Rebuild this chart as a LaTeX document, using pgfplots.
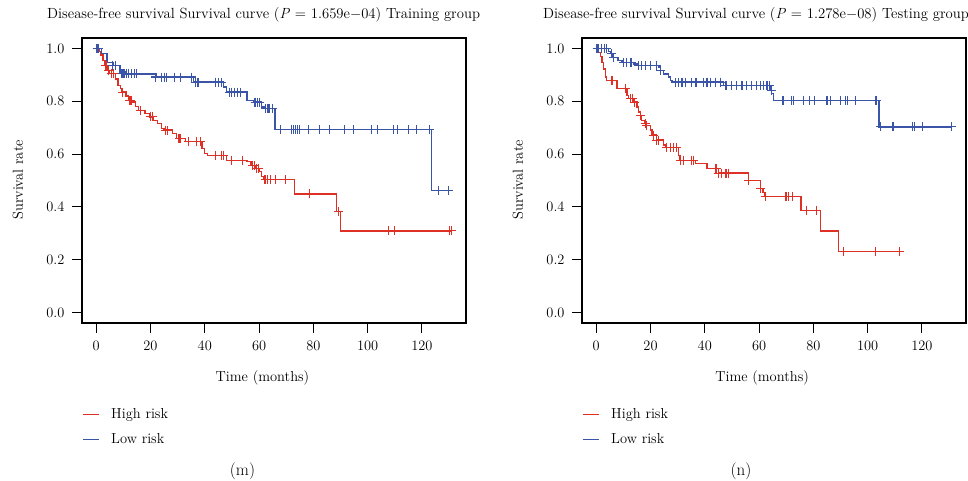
\documentclass[border=0pt]{standalone}
\usepackage{pgfplots}
\pgfplotsset{compat=1.18}
\definecolor{kmred}{RGB}{222,48,36}
\definecolor{kmblue}{RGB}{58,84,168}
\pgfplotsset{km/.style={
  scale only axis, width=384pt, height=285pt,
  xmin=-5.24, xmax=136.24, ymin=-0.04, ymax=1.04,
  clip mode=individual,
  xtick={0,20,...,120}, ytick={0,0.2,0.4,0.6,0.8,1.0},
  y tick label style={/pgf/number format/.cd, fixed, fixed zerofill, precision=1, /tikz/.cd},
  tick pos=left, tick align=outside, major tick length=10pt,
  axis line style={line width=1.2pt},
  every tick/.style={black, line width=1.1pt},
  tick label style={font=\fontsize{14.5}{16}\selectfont},
  x tick label style={yshift=-5pt},
  y tick label style={xshift=-4pt},
  label style={font=\fontsize{14.5}{16}\selectfont},
  title style={font=\fontsize{14.7}{17}\selectfont, anchor=base west, inner sep=0pt},
  xlabel={Time (months)}, ylabel={Survival rate},
  ylabel style={at={(-0.1667,0.502)}, anchor=center},
  legend style={draw=none, fill=none, anchor=north west, at={(0,-0.30)},
    font=\fontsize{14.5}{16}\selectfont, row sep=13pt, column sep=0pt, inner sep=0pt,
    nodes={inner sep=0pt, outer sep=0pt}},
  legend cell align=left,
  legend image code/.code={\draw[#1, line width=1pt] (0pt,0pt) -- (16pt,0pt);},
  kmline/.style={const plot, line width=1.3pt, mark=none},
  kmcens/.style={only marks, mark=+, mark size=4.5pt, line width=1.1pt, forget plot},
}}
\newcommand{\legtext}[1]{\hspace*{12pt}#1}
\begin{document}
\begin{tikzpicture}[x=1pt,y=1pt]
\path[use as bounding box] (0,0) rectangle (968,481);
% ---------------- (m) Training group
\begin{axis}[km, at={(82pt,158pt)}, anchor=south west,
  title={Disease-free survival Survival curve (\textit{P} = 1.659e\ensuremath{-}04) Training group},
  title style={at={(-0.0911,1.0456)}},
  xlabel style={at={(0.470,-0.193)}, anchor=center}]
\addplot[kmred, kmline] coordinates {(0,1.0)(1.2,0.99)(1.8,0.975)(2.5,0.955)(3.2,0.935)(4.2,0.917)(5,0.905)(7,0.885)(8,0.86)(9,0.848)(9.4,0.835)(11,0.82)(11.8,0.804)(13.5,0.797)(14.5,0.78)(15.5,0.766)(18,0.753)(19.5,0.741)(21,0.728)(22.5,0.716)(24,0.697)(25,0.691)(28,0.678)(29.5,0.66)(33,0.647)(39,0.621)(39.8,0.603)(41,0.596)(48,0.577)(55.5,0.571)(57,0.558)(58.8,0.546)(60.2,0.533)(61,0.514)(61.6,0.504)(73,0.449)(88.4,0.382)(89.9,0.309)(131,0.309)};
\addlegendentry{\legtext{High risk}}
\addplot[kmblue, kmline] coordinates {(0,1.0)(2,0.98)(4,0.948)(6.4,0.936)(8.8,0.911)(11,0.904)(22.3,0.892)(35.8,0.873)(46.9,0.854)(48.1,0.835)(55.5,0.804)(57.9,0.797)(61,0.778)(62,0.772)(65.9,0.693)(123.6,0.4615)(129.8,0.4615)};
\addlegendentry{\legtext{Low risk}}
\addplot[kmred, kmcens] coordinates {(0.5,1.0)(3.6,0.935)(4.6,0.917)(5.6,0.905)(6.4,0.905)(9.6,0.835)(12.2,0.804)(12.8,0.804)(16.2,0.766)(20,0.741)(20.6,0.741)(25.5,0.691)(26.2,0.691)(30.5,0.66)(31.2,0.66)(34,0.647)(37,0.647)(38.3,0.647)(44,0.596)(46,0.596)(47,0.596)(50,0.577)(54,0.577)(57.5,0.558)(58.2,0.558)(59.2,0.546)(59.8,0.546)(62.2,0.504)(63,0.504)(64.1,0.504)(65.9,0.504)(69.9,0.504)(78.6,0.449)(89.3,0.382)(107.7,0.309)(109.9,0.309)(130.3,0.309)(131,0.309)};
\addplot[kmblue, kmcens] coordinates {(0.3,1.0)(1,1.0)(6,0.936)(7,0.936)(9.5,0.904)(10,0.904)(10.5,0.904)(11.2,0.904)(12,0.904)(13,0.904)(14,0.904)(15,0.904)(22,0.892)(24,0.892)(25,0.892)(26,0.892)(29,0.892)(31,0.892)(35,0.892)(36.5,0.873)(37.5,0.873)(44,0.873)(45,0.873)(46,0.873)(49,0.835)(50,0.835)(51,0.835)(52,0.835)(53,0.835)(58.5,0.797)(59.3,0.797)(60,0.797)(62.5,0.772)(63.3,0.772)(64,0.772)(65,0.772)(68,0.693)(72.1,0.693)(72.7,0.693)(73.3,0.693)(74.1,0.693)(74.9,0.693)(78.2,0.693)(82.2,0.693)(85.8,0.693)(91.5,0.693)(94.8,0.693)(101.3,0.693)(103.6,0.693)(109.5,0.693)(111,0.693)(115,0.693)(118.1,0.693)(122.8,0.693)(126.1,0.4615)(129.8,0.4615)};
\node[font=\fontsize{17}{19}\selectfont] at (rel axis cs:0.418,-0.519) {(m)};
\end{axis}
% ---------------- (n) Testing group
\begin{axis}[km, at={(582pt,158pt)}, anchor=south west,
  title={Disease-free survival Survival curve (\textit{P} = 1.278e\ensuremath{-}08) Testing group},
  title style={at={(-0.1016,1.0456)}},
  xlabel style={at={(0.469,-0.193)}, anchor=center}]
\addplot[kmred, kmline] coordinates {(0,1.0)(0.8,0.986)(1.5,0.97)(2.1,0.948)(2.7,0.923)(3.3,0.892)(3.9,0.879)(7.6,0.848)(11.3,0.823)(12,0.81)(13.7,0.797)(15,0.779)(15.6,0.76)(16.2,0.747)(16.8,0.728)(18,0.716)(18.6,0.709)(19.9,0.691)(20.5,0.672)(22.3,0.653)(24.8,0.634)(25.4,0.625)(30.3,0.596)(30.9,0.577)(36.5,0.565)(40.8,0.546)(45.1,0.528)(56.1,0.499)(60.4,0.470)(61.4,0.455)(62.2,0.439)(75.4,0.386)(82.5,0.309)(89.3,0.231)(111.8,0.231)};
\addlegendentry{\legtext{High risk}}
\addplot[kmblue, kmline] coordinates {(0,1.0)(4.5,0.99)(5.2,0.98)(6,0.967)(8,0.955)(9.5,0.948)(13.7,0.942)(15,0.936)(22.9,0.93)(23.6,0.917)(24.8,0.904)(26.6,0.892)(27.3,0.879)(27.9,0.873)(47,0.86)(64.1,0.842)(64.7,0.829)(65.3,0.804)(104.2,0.703)(131,0.703)};
\addlegendentry{\legtext{Low risk}}
\addplot[kmred, kmcens] coordinates {(0.5,1.0)(5.8,0.879)(10.7,0.848)(12.5,0.81)(13.2,0.81)(14,0.797)(16.2,0.747)(18,0.716)(18.6,0.709)(21,0.672)(22.3,0.653)(23,0.653)(26,0.625)(27.3,0.625)(28.5,0.625)(29.7,0.625)(30.9,0.577)(32.2,0.577)(35.2,0.577)(35.9,0.577)(43.8,0.546)(44.4,0.546)(45.1,0.528)(46.3,0.528)(47.5,0.528)(48.1,0.528)(48.7,0.528)(56.1,0.499)(60.4,0.470)(62.2,0.439)(69.6,0.439)(70.2,0.439)(70.8,0.439)(72.4,0.439)(77.4,0.386)(81.3,0.386)(91.1,0.231)(102.8,0.231)(111.8,0.231)};
\addplot[kmblue, kmcens] coordinates {(0.3,1)(1,1)(2,1)(3,1)(3.8,1)(5.5,0.98)(6.4,0.967)(10.1,0.948)(11.3,0.948)(12.5,0.948)(13.1,0.948)(15.6,0.936)(16.8,0.936)(18,0.936)(19.9,0.936)(22.3,0.936)(23.6,0.917)(29.1,0.873)(30.3,0.873)(31.6,0.873)(32.8,0.873)(35.2,0.873)(36.5,0.873)(37.1,0.873)(39.5,0.873)(40.8,0.873)(42,0.873)(43.8,0.873)(45.7,0.873)(47.5,0.86)(48.1,0.86)(49.9,0.86)(51.8,0.86)(53.7,0.86)(55.5,0.86)(57.3,0.86)(59.2,0.86)(60.4,0.86)(61.6,0.86)(62.9,0.86)(63.8,0.86)(64.7,0.842)(68.8,0.804)(72.1,0.804)(72.7,0.804)(76.4,0.804)(78.5,0.804)(80.3,0.804)(84.7,0.804)(85.3,0.804)(86.2,0.804)(89.9,0.804)(91.7,0.804)(92.6,0.804)(95.4,0.804)(102.8,0.804)(103.4,0.804)(104.8,0.703)(109.1,0.703)(109.5,0.703)(116.6,0.703)(117.1,0.703)(120.3,0.703)(131,0.703)};
\node[font=\fontsize{17}{19}\selectfont] at (rel axis cs:0.414,-0.519) {(n)};
\end{axis}
\end{tikzpicture}
\end{document}
